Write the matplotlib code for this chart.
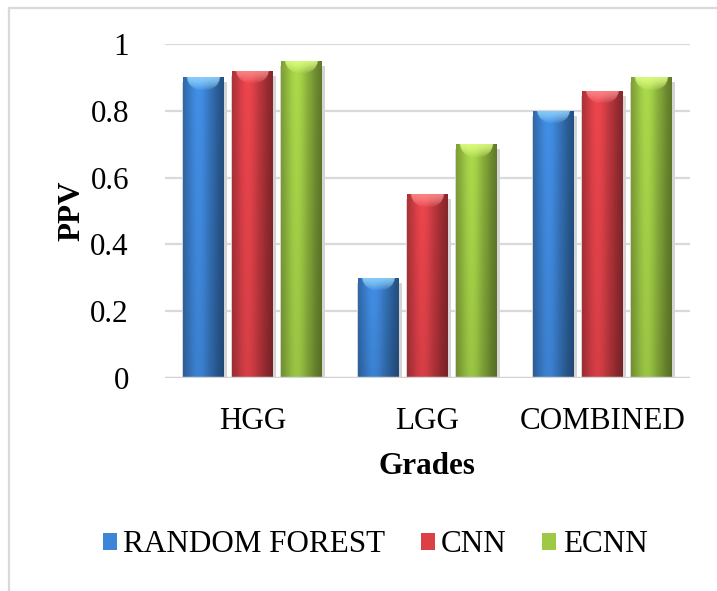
import matplotlib
matplotlib.use("Agg")
import matplotlib.pyplot as plt
import numpy as np
from matplotlib.patches import Patch
from matplotlib.lines import Line2D

plt.rcParams["font.family"] = ["Liberation Serif", "DejaVu Serif"]

grades = ["HGG", "LGG", "COMBINED"]
methods = ["RANDOM FOREST", "CNN", "ECNN"]
random_forest = [0.90, 0.30, 0.80]
cnn = [0.92, 0.55, 0.86]
ecnn = [0.95, 0.70, 0.90]
yticks = [0, 0.2, 0.4, 0.6, 0.8, 1]
ytick_labels = ["0", "0.2", "0.4", "0.6", "0.8", "1"]

base_colors = [(0.24, 0.52, 0.84), (0.86, 0.25, 0.28), (0.62, 0.79, 0.27)]
top_colors = [(0.58, 0.84, 1.00), (1.00, 0.55, 0.55), (0.88, 1.00, 0.52)]

FS = 22.4
W, H = 717, 591
fig = plt.figure(figsize=(W / 100, H / 100), dpi=100)
ax = fig.add_axes([165 / W, 1 - 378 / H, (690 - 165) / W, (378 - 44) / H])
ax.set_xlim(-0.5, 2.5)
ax.set_ylim(0, 1)

px_x = 1 / 175.0   # data units per pixel
px_y = 1 / 334.0


def shade_bar(rect, base, top):
    x0, y0 = rect.get_x(), rect.get_y()
    w, h = rect.get_width(), rect.get_height()
    ncol = 80
    nrow = max(int(h / px_y), 4)
    u = np.linspace(0, 1, ncol)
    prof = 0.72 + 0.36 * np.exp(-((u - 0.38) / 0.30) ** 2)
    prof = prof - 0.12 * np.clip((u - 0.75) / 0.25, 0, 1)
    v = np.linspace(0, 1, nrow)
    vert = 1.0 - 0.10 * v
    img = np.array(base)[None, None, :] * prof[None, :, None] * vert[:, None, None]
    # glossy cap at the top of the cylinder
    cap = 13
    for r in range(min(cap, nrow)):
        half = 0.40 * np.sqrt(max(1 - (r / cap) ** 2, 0))
        m = np.abs(u - 0.5) < half
        a = 0.85 * (1 - (r / cap) ** 1.5)
        img[r, m] = img[r, m] * (1 - a) + np.array(top) * a
    img = np.clip(img, 0, 1)
    im = ax.imshow(img, extent=(x0, x0 + w, y0, y0 + h), origin="upper",
                   aspect="auto", interpolation="bilinear", zorder=3)
    im.set_clip_path(rect)


x = np.arange(len(grades))
width = 0.234
step = 0.28
series = [random_forest, cnn, ecnn]

# horizontal grid and floor
for t in yticks[1:]:
    ax.axhline(t, color="#d9d9d9", lw=1.6, zorder=0)
ax.axhline(0, color="#d4d4d4", lw=2.5, zorder=4)

for i, vals in enumerate(series):
    pos = x + (i - 1) * step
    # soft drop shadow behind each bar
    ax.bar(pos + px_x, np.array(vals) - 3 * px_y, width=width + 4 * px_x,
           bottom=-2 * px_y, color="#d4d4d4", zorder=1)
    bars = ax.bar(pos, vals, width=width, color=base_colors[i], zorder=2)
    for b in bars:
        shade_bar(b, base_colors[i], top_colors[i])

ax.set_xlim(-0.5, 2.5)
ax.set_ylim(0, 1)
ax.set_yticks(yticks)
ax.set_yticklabels(ytick_labels)
ax.set_xticks(x)
ax.set_xticklabels(grades)
ax.tick_params(axis="both", length=0, labelsize=FS)
ax.tick_params(axis="y", pad=26)
ax.tick_params(axis="x", pad=21)
for s in ax.spines.values():
    s.set_visible(False)
ax.patch.set_alpha(0)

fig.text(427 / W, 1 - 466 / H, "Grades", ha="center", va="center",
         fontsize=FS, fontweight="bold")
fig.text(72 / W, 1 - 211 / H, "PPV", ha="center", va="center", rotation=90,
         fontsize=FS, fontweight="bold")

handles = [Patch(facecolor=c, edgecolor="none") for c in base_colors]
fig.legend(handles, methods, loc="center", bbox_to_anchor=(375 / W, 1 - 545 / H),
           ncol=3, frameon=False, fontsize=FS, handlelength=0.45, handleheight=0.45,
           handletextpad=0.2, columnspacing=1.15)

# chart area outline
fig.add_artist(Line2D([9 / W, 9 / W], [0, 1 - 8 / H], transform=fig.transFigure,
                      color="#d9d9d9", lw=1.6))
fig.add_artist(Line2D([9 / W, 1], [1 - 8 / H, 1 - 8 / H], transform=fig.transFigure,
                      color="#d9d9d9", lw=1.6))

fig.savefig("out.png", dpi=100)
